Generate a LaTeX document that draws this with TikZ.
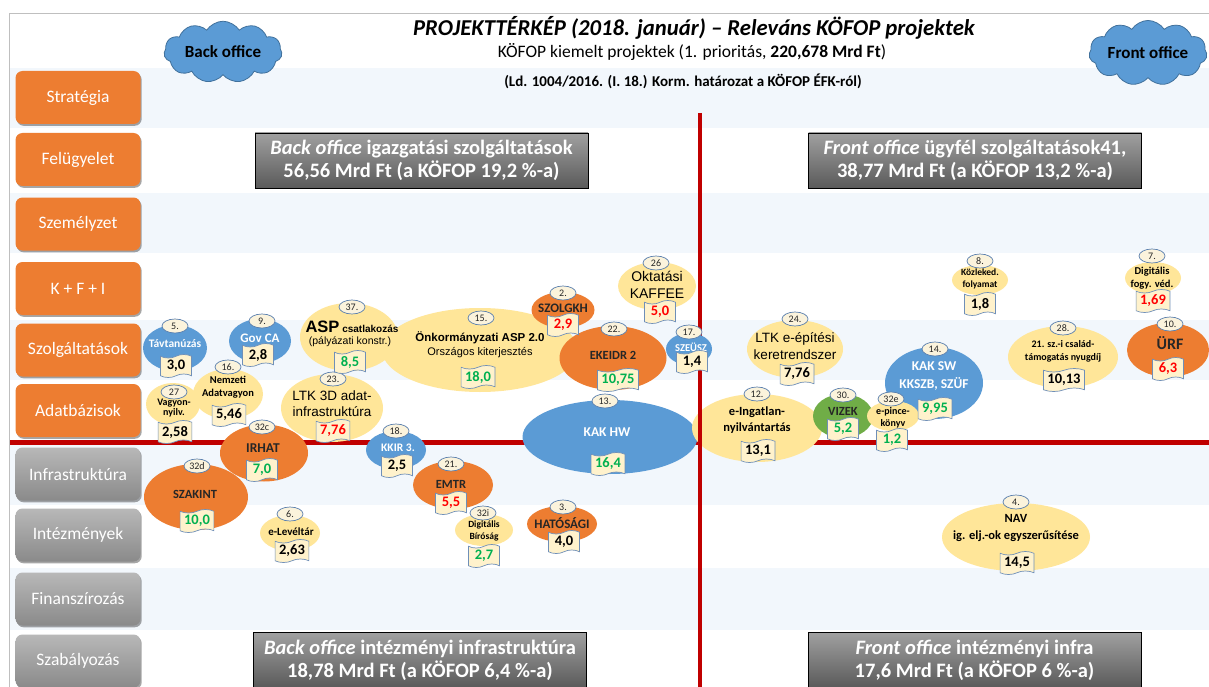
\documentclass[tikz,border=0pt]{standalone}
\usepackage{fontspec}
\setmainfont{Carlito}
\newfontfamily\arialf{Liberation Sans}
\usetikzlibrary{shapes.geometric,shapes.symbols,shadows}
\definecolor{orng}{HTML}{ED7D31}
\definecolor{blu}{HTML}{5B9BD5}
\definecolor{cloudb}{HTML}{41719C}
\definecolor{yel}{HTML}{FFE699}
\definecolor{grnE}{HTML}{70AD47}
\definecolor{band}{HTML}{F2F7FC}
\definecolor{redl}{HTML}{C00000}
\definecolor{vgrn}{HTML}{00B050}
\definecolor{vred}{HTML}{FF0000}
\definecolor{flagf}{HTML}{FFF2CC}
\definecolor{flagb}{HTML}{6F8FB8}
\definecolor{numf}{HTML}{FBF3DC}
\definecolor{numb}{HTML}{5A7FAE}
\definecolor{framec}{HTML}{BFBFBF}
\definecolor{dtxt}{HTML}{262626}
\definecolor{gbtop}{HTML}{B8B8B8}
\definecolor{gbbot}{HTML}{8A8A8A}
\definecolor{gxtop}{HTML}{A0A0A0}
\definecolor{gxbot}{HTML}{5A5A5A}
\newcommand\fz[2]{\fontsize{#1}{#2}\selectfont}
\newcommand\pell[5]{\node[ellp, fill=#5, minimum width=#3, minimum height=#4] (#1) at (#2) {};}
\newcommand\pnum[3]{\node[numo] (#1) at (#2) {#3};}
\newcommand\pflag[4]{\node[flagn, text=#4] (#1) at (#2) {#3};}
\newcommand\ptxt[4]{\node[etxt, #4] (#1) at (#2) {#3};}
\begin{document}
\begin{tikzpicture}[x=1pt,y=-1pt,
  obtn/.style={rounded corners=7pt, fill=orng, minimum width=125, minimum height=53, text=white, font=\fz{17.5}{20},
    drop shadow={shadow xshift=1.2pt, shadow yshift=-1.8pt, opacity=0.35, fill=black}},
  gbtn/.style={rounded corners=7pt, top color=gbtop, bottom color=gbbot, minimum width=125, minimum height=53, text=white, font=\fz{17.5}{20},
    drop shadow={shadow xshift=1.2pt, shadow yshift=-1.8pt, opacity=0.35, fill=black}},
  gbox/.style={draw=black, line width=0.8pt, top color=gxtop, bottom color=gxbot, minimum width=333, minimum height=55,
    text=white, font=\bfseries\fz{20.5}{23}, align=center, inner sep=0},
  cloudn/.style={cloud, cloud puffs=11, cloud puff arc=115, aspect=2.3, fill=blu, draw=cloudb, line width=0.8pt,
    minimum width=118, minimum height=52, inner sep=0, font=\bfseries\fz{17}{19}, text=black},
  ellp/.style={ellipse, inner sep=0},
  numo/.style={ellipse, draw=numb, line width=0.7pt, fill=numf, inner sep=0, minimum width=26, minimum height=14,
    font=\fz{10}{11}, text=black!85},
  flagn/.style={tape, tape bend top=in and out, tape bend bottom=in and out, tape bend height=3.5pt, draw=flagb,
    line width=0.7pt, fill=flagf, inner xsep=4pt, inner ysep=1pt, minimum height=23, minimum width=31,
    font=\bfseries\fz{14.5}{16}},
  etxt/.style={inner sep=0, align=center},
  wt/.style={text=white, font=\bfseries\fz{#1}{#1}},
  dk/.style={text=dtxt, font=\bfseries\fz{#1}{#1}},
  redline/.style={draw=redl, line width=4.5pt}
]
\useasboundingbox (0,0) rectangle (1209,687);
\fill[white] (0,0) rectangle (1209,687);
% bands
\fill[band] (10,68) rectangle (1209,128);
\fill[band] (10,193) rectangle (1209,253);
\fill[band] (10,320) rectangle (1209,380);
\fill[band] (10,445) rectangle (1209,505);
\fill[band] (10,568) rectangle (1209,630);
% frame
\draw[framec, line width=0.8pt] (9,687) -- (9,13) -- (1209,13);
% clouds
\node[cloudn] (cback) at (223,52) {Back office};
\node[cloudn] (cfront) at (1148,53) {Front office};
% titles
\node[inner sep=0] (title) at (694,28) {\bfseries\itshape\fz{22.7}{26}PROJEKTTÉRKÉP (2018. január) – Releváns KÖFOP projektek};
\node[inner sep=0] (subt) at (692,52) {\fz{17.5}{20}KÖFOP kiemelt projektek (1. prioritás, \textbf{220,678 Mrd Ft})};
\node[inner sep=0] (ld) at (683,81) {\bfseries\fz{15}{17}(Ld. 1004/2016. (I. 18.) Korm. határozat a KÖFOP ÉFK-ról)};
% left buttons
\node[obtn] (b1) at (78,97.5) {Stratégia};
\node[obtn] (b2) at (78,159.5) {Felügyelet};
\node[obtn] (b3) at (78,224) {Személyzet};
\node[obtn] (b4) at (78,288.5) {K + F + I};
\node[obtn] (b5) at (78,350) {Szolgáltatások};
\node[obtn] (b6) at (78,410.5) {Adatbázisok};
\node[gbtn] (b7) at (78,474) {Infrastruktúra};
\node[gbtn] (b8) at (78,535) {Intézmények};
\node[gbtn] (b9) at (78,599) {Finanszírozás};
\node[gbtn] (b10) at (78,661) {Szabályozás};
% grey boxes
\node[gbox] (gb1) at (421.5,160.5) {\textit{Back office} igazgatási szolgáltatások\\56,56 Mrd Ft (a KÖFOP 19,2 \%-a)};
\node[gbox] (gb2) at (975,160.5) {\textit{Front office} ügyfél szolgáltatások41,\\38,77 Mrd Ft (a KÖFOP 13,2 \%-a)};
\node[gbox] (gb3) at (420,660) {\textit{Back office} intézményi infrastruktúra\\18,78 Mrd Ft (a KÖFOP 6,4 \%-a)};
\node[gbox] (gb4) at (974.5,660) {\textit{Front office} intézményi infra\\17,6 Mrd Ft (a KÖFOP 6 \%-a)};
% horizontal red line
\coordinate (hl1) at (10,442.5);
\coordinate (hl2) at (1209,442.5);
\draw[redline] (hl1) -- (hl2);
% ellipses
\pell{e5}{175,348}{64}{46}{blu}
\pell{e9}{260,341}{62}{44}{blu}
\pell{e37}{349,337}{98}{68}{yel}
\pell{e15}{480,350}{196}{84}{yel}
\pell{e27}{173,404}{54}{42}{yel}
\pell{e16}{228,394}{70}{50}{yel}
\pell{e23}{332,408}{102}{68}{yel}
\pell{e32c}{264,453}{88}{57}{orng}
\pell{e32d}{196,497}{104}{66}{orng}
\pell{e18}{396,450}{60}{38}{blu}
\pell{e21}{453,485}{80}{48}{orng}
\pell{e6}{290,533}{60}{36}{yel}
\pell{e32i}{484,530}{58}{32}{yel}
\pell{e3}{562,524}{70}{36}{orng}
\pell{e2}{563,310}{63}{36}{orng}
\pell{e22}{613,358}{107}{64}{orng}
\pell{e13}{610,437}{175}{74}{blu}
\pell{e26}{657,286}{78}{48}{yel}
\pell{e24}{795,349}{96}{58}{yel}
\pell{e12}{757,428}{130}{68}{yel}
\pell{e14}{934,383}{98}{72}{blu}
\pell{e30}{843,416}{60}{44}{grnE}
\pell{e32e}{893,416}{52}{30}{yel}
\pell{e8}{980,280}{56}{30}{yel}
\pell{e7}{1153,278}{56}{32}{yel}
\pell{e28}{1063,357}{110}{62}{yel}
\pell{e10}{1168,350}{82}{54}{orng}
\pell{e4}{1016,537}{148}{68}{yel}
% vertical red line
\coordinate (vl1) at (700,113);
\coordinate (vl2) at (700,687);
\draw[redline] (vl1) -- (vl2);
\pell{e17}{689,349}{46}{32}{blu}
% number ovals
\pnum{n5}{175,326}{5.}
\pnum{n9}{262,321}{9.}
\pnum{n37}{352,307}{37.}
\pnum{n15}{481,318}{15.}
\pnum{n27}{174,392}{27}
\pnum{n16}{228,367}{16.}
\pnum{n23}{333,379}{23.}
\pnum{n32c}{262,427}{32c}
\pnum{n32d}{197,466}{32d}
\pnum{n18}{396,431}{18.}
\pnum{n21}{451,464}{21.}
\pnum{n6}{290,514}{6.}
\pnum{n32i}{483,513}{32i}
\pnum{n3}{563,507}{3.}
\pnum{n2}{563,293}{2.}
\pnum{n22}{614,329}{22.}
\pnum{n13}{605,401}{13.}
\pnum{n26}{656,263}{26}
\pnum{n17}{689,332}{17.}
\pnum{n24}{795,319}{24.}
\pnum{n12}{757,394}{12.}
\pnum{n14}{935,349}{14.}
\pnum{n30}{843,395}{30.}
\pnum{n32e}{891,399}{32e}
\pnum{n8}{980,261}{8.}
\pnum{n7}{1152,256}{7.}
\pnum{n28}{1063,328}{28.}
\pnum{n10}{1170,324}{10.}
\pnum{n4}{1016,502}{4.}
% ellipse texts
\ptxt{t5}{175,344}{Távtanúzás}{wt=11.5}
\ptxt{t9}{260,338}{Gov CA}{wt=13}
\ptxt{t37a}{352,327}{{\fz{16.5}{18}ASP} \fz{10}{12}csatlakozás}{font=\arialf\bfseries}
\ptxt{t37b}{350,342}{(pályázati konstr.)}{font=\arialf\fz{10.5}{12}}
\ptxt{t15a}{480,338}{Önkormányzati ASP 2.0}{font=\arialf\bfseries\fz{11.5}{13}}
\ptxt{t15b}{480,353}{Országos kiterjesztés}{font=\arialf\fz{11}{13}}
\ptxt{t27}{174,408}{Vagyon-\\nyilv.}{font=\bfseries\fz{10}{10.5}}
\ptxt{t16}{228,387}{Nemzeti\\Adatvagyon}{font=\bfseries\fz{10.5}{13}}
\ptxt{t23}{332,404}{LTK 3D adat-\\infrastruktúra}{font=\arialf\fz{13.5}{16}}
\ptxt{t32c}{263,448}{IRHAT}{dk=13.5}
\ptxt{t32d}{195,494}{SZAKINT}{dk=12.5}
\ptxt{t18}{398,448}{KKIR 3.}{wt=11.5}
\ptxt{t21}{451,484}{EMTR}{dk=12.5}
\ptxt{t6}{291,532}{e-Levéltár}{font=\bfseries\fz{11}{12}}
\ptxt{t32i}{484,531}{Digitális\\Bíróság}{font=\bfseries\fz{9.5}{12}}
\ptxt{t3}{562,523}{HATÓSÁGI}{dk=13}
\ptxt{t2}{563,308}{SZOLGKH}{dk=13}
\ptxt{t22}{613,355}{EKEIDR 2}{dk=12.5}
\ptxt{t13}{607,432}{KAK HW}{wt=13.5}
\ptxt{t26}{657,285}{Oktatási\\KAFFEE}{font=\arialf\fz{14}{17}}
\ptxt{t17}{691,347}{SZEÜSZ}{wt=10.5}
\ptxt{t24}{795,346}{LTK e-építési\\keretrendszer}{font=\arialf\fz{13.5}{17}}
\ptxt{t12}{757,420}{e-Ingatlan-\\nyilvántartás}{font=\bfseries\fz{12.5}{16}}
\ptxt{t14}{934,376}{KAK SW\\KKSZB, SZÜF}{text=white, font=\bfseries\fz{13.5}{18}}
\ptxt{t30}{843,411}{VIZEK}{dk=12.5}
\ptxt{t32e}{893,418}{e-pince-\\könyv}{font=\bfseries\fz{10}{12}}
\ptxt{t8}{980,279}{Közleked.\\folyamat}{font=\bfseries\fz{9.5}{12}}
\ptxt{t7}{1152,278}{Digitális\\fogy. véd.}{font=\bfseries\fz{10.5}{12.5}}
\ptxt{t28}{1063,351}{21. sz.-i család-\\támogatás nyugdíj}{font=\bfseries\fz{10}{13}}
\ptxt{t10}{1170,343}{ÜRF}{dk=16}
\ptxt{t4}{1016,528}{NAV\\ig. elj.-ok egyszerűsítése}{font=\bfseries\fz{12.5}{17}}
% flags
\pflag{f5}{176,366}{3,0}{black}
\pflag{f9}{258,355}{2,8}{black}
\pflag{f37}{350,362}{8,5}{vgrn}
\pflag{f15}{478,377}{18,0}{vgrn}
\pflag{f27}{175,432}{2,58}{black}
\pflag{f16}{229,415}{5,46}{black}
\pflag{f23}{333,431}{7,76}{vred}
\pflag{f32c}{262,470}{7,0}{vgrn}
\pflag{f32d}{197,521}{10,0}{vgrn}
\pflag{f18}{397,466}{2,5}{black}
\pflag{f21}{451,503}{5,5}{vred}
\pflag{f6}{292,551}{2,63}{black}
\pflag{f32i}{484,556}{2,7}{vgrn}
\pflag{f3}{564,542}{4,0}{black}
\pflag{f2}{563,325}{2,9}{vred}
\pflag{f22}{618,380}{10,75}{vgrn}
\pflag{f13}{608,464}{16,4}{vgrn}
\pflag{f26}{660,312}{5,0}{vred}
\pflag{f17}{692,362}{1,4}{black}
\pflag{f24}{797,374}{7,76}{black}
\pflag{f12}{758,451}{13,1}{black}
\pflag{f14}{935,409}{9,95}{vgrn}
\pflag{f30}{843,429}{5,2}{vgrn}
\pflag{f32e}{892,440}{1,2}{vgrn}
\pflag{f8}{980,304}{1,8}{black}
\pflag{f7}{1153,301}{1,69}{vred}
\pflag{f28}{1064,380}{10,13}{black}
\pflag{f10}{1168,369}{6,3}{vred}
\pflag{f4}{1017,563}{14,5}{black}
\end{tikzpicture}
\end{document}
